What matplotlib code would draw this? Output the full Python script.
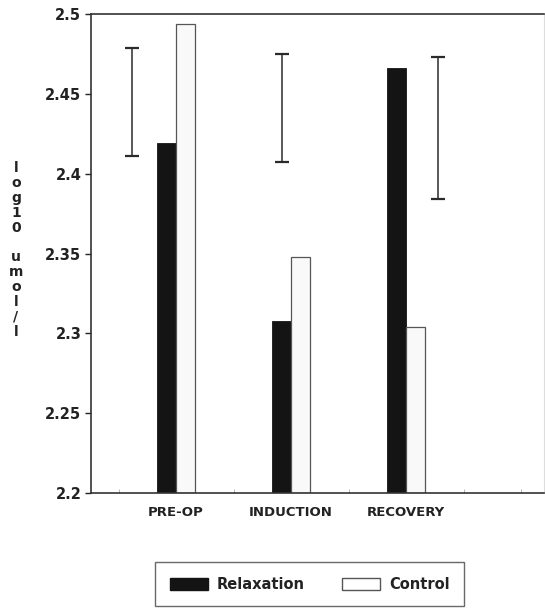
import numpy as np
import matplotlib
matplotlib.use('Agg')
import matplotlib.pyplot as plt
from matplotlib.patches import Patch

plt.rcParams['font.family'] = ['DejaVu Sans']

phases = ['PRE-OP', 'INDUCTION', 'RECOVERY']
relaxation = [2.419, 2.308, 2.466]
control = [2.494, 2.348, 2.304]

# standalone range bars drawn beside each phase
err_low = [2.411, 2.407, 2.384]
err_high = [2.479, 2.475, 2.473]
err_offset = [-0.38, -0.08, 0.28]

y_ticks = [2.2, 2.25, 2.3, 2.35, 2.4, 2.45, 2.5]
y_min, y_max = 2.2, 2.5

fig = plt.figure(figsize=(5.45, 6.12), dpi=100)
ax = fig.add_axes([91/545, 1 - 493/612, (544 - 91)/545, (493 - 14)/612])

x = np.arange(1, len(phases) + 1)
w = 0.165

ax.bar(x - w/2, np.array(relaxation) - y_min, w, bottom=y_min,
       color='#141414', edgecolor='#141414', linewidth=0.6)
ax.bar(x + w/2, np.array(control) - y_min, w, bottom=y_min,
       color='#f9f9f9', edgecolor='#555555', linewidth=0.9)

lo = np.array(err_low)
hi = np.array(err_high)
ax.errorbar(x + np.array(err_offset), (lo + hi) / 2, yerr=(hi - lo) / 2,
            fmt='none', ecolor='#2a2a2a', elinewidth=1.1, capsize=5, capthick=1.6)

ax.set_ylim(y_min, y_max)
ax.set_xlim(0.26, 0.26 + 453/115)
ax.set_yticks(y_ticks)
ax.set_yticklabels([('%g' % v) for v in y_ticks])
ax.set_xticks(x)
ax.set_xticklabels(phases)
ax.set_xticks([0.5, 1.5, 2.5, 3.5, 4.0], minor=True)

ax.tick_params(axis='y', direction='out', length=4, width=1, pad=3,
               labelsize=10.5, colors='#222222')
ax.tick_params(axis='x', which='major', length=0, pad=9, labelsize=9.5,
               colors='#222222')
ax.tick_params(axis='x', which='minor', direction='in', length=3, width=0.6,
               color='#aaaaaa')
for lab in ax.get_xticklabels() + ax.get_yticklabels():
    lab.set_fontweight('bold')

for side in ['left', 'top', 'bottom']:
    ax.spines[side].set_color('#333333')
    ax.spines[side].set_linewidth(1.2)
ax.spines['right'].set_color('#dddddd')
ax.spines['right'].set_linewidth(0.8)

# vertical stacked axis title
ylab = 'log10 umol/l'
fig.text(16/545, 1 - 250/612, '\n'.join(ylab), ha='center', va='center',
         fontsize=10, fontweight='bold', color='#222222', linespacing=1.08)

handles = [Patch(facecolor='#141414', edgecolor='#141414', label='Relaxation'),
           Patch(facecolor='white', edgecolor='#555555', label='Control')]
leg = fig.legend(handles=handles, loc='upper left',
                 bbox_to_anchor=(155/545, 1 - 562/612), ncol=2,
                 fancybox=False, frameon=True, edgecolor='#444444',
                 prop={'size': 10.5, 'weight': 'bold'},
                 handlelength=2.6, handleheight=0.9, handletextpad=0.6,
                 columnspacing=2.6, borderpad=1.0, borderaxespad=0)
leg.get_frame().set_linewidth(1.0)
for t in leg.get_texts():
    t.set_color('#222222')

fig.savefig('out.png', dpi=100)
